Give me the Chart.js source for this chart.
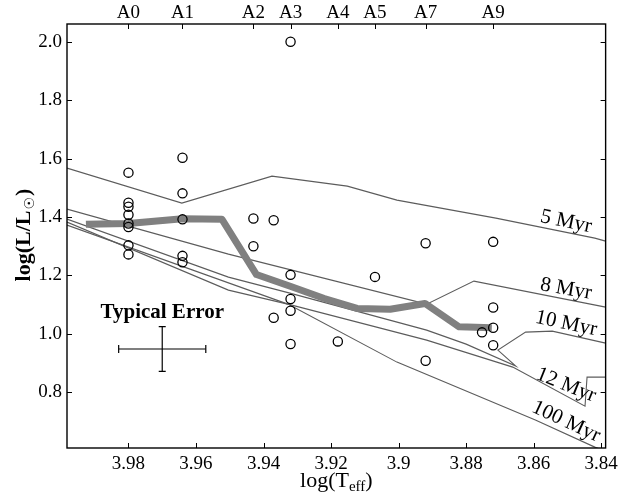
<!DOCTYPE html>
<html>
<head>
<meta charset="utf-8">
<script src="https://cdn.jsdelivr.net/npm/chart.js@4.4.1/dist/chart.umd.min.js"></script>
<style>
  html, body { margin: 0; padding: 0; background: #ffffff; }
  #c { display: block; }
</style>
</head>
<body>
<canvas id="c" width="623" height="495"></canvas>
<script>
// Spectral types along the top axis and their effective temperatures
const spectralTypes = ['A0', 'A1', 'A2', 'A3', 'A4', 'A5', 'A7', 'A9'];
const spectralLogT = [3.98, 3.964, 3.943, 3.932, 3.918, 3.907, 3.892, 3.872];

// Tick values for the bottom and left axes
const tempTicks = [3.98, 3.96, 3.94, 3.92, 3.90, 3.88, 3.86, 3.84];
const lumTicks = [0.8, 1.0, 1.2, 1.4, 1.6, 1.8, 2.0];

// Individual stars
const starLogT = [3.98, 3.98, 3.98, 3.98, 3.98, 3.98, 3.98, 3.98,
                  3.964, 3.964, 3.964, 3.964, 3.964,
                  3.943, 3.943, 3.937, 3.937,
                  3.932, 3.932, 3.932, 3.932, 3.932,
                  3.918, 3.907, 3.892, 3.892, 3.8753,
                  3.872, 3.872, 3.872, 3.872];
const starLogL = [1.552, 1.449, 1.435, 1.408, 1.378, 1.366, 1.303, 1.272,
                  1.603, 1.481, 1.392, 1.267, 1.245,
                  1.395, 1.300, 1.389, 1.055,
                  2.000, 1.202, 1.119, 1.079, 0.965,
                  0.974, 1.195, 1.310, 0.908, 1.005,
                  1.315, 1.090, 1.021, 0.961];

// Mean sequence (thick grey line)
const meanLogT = [3.9926, 3.98, 3.964, 3.9523, 3.9421, 3.9321, 3.9220, 3.9123, 3.9025, 3.8922, 3.8821, 3.8724];
const meanLogL = [1.375, 1.378, 1.394, 1.392, 1.203, 1.163, 1.121, 1.087, 1.084, 1.104, 1.024, 1.021];

// Isochrones
const iso5LogT = [3.9982, 3.9642, 3.9375, 3.9152, 3.9005, 3.8712, 3.8419, 3.8387];
const iso5LogL = [1.5675, 1.4476, 1.5401, 1.5058, 1.4579, 1.3962, 1.3277, 1.3174];
const iso8LogT = [3.9982, 3.9504, 3.8917, 3.8777, 3.8387];
const iso8LogL = [1.4270, 1.2729, 1.1017, 1.1805, 1.0914];
const iso10LogT = [3.9982, 3.9504, 3.9322, 3.8917, 3.8800, 3.8653, 3.8706, 3.8624, 3.8545, 3.8387];
const iso10LogL = [1.3928, 1.1942, 1.1394, 1.0127, 0.9647, 0.8894, 0.9442, 1.0058, 1.0092, 0.9682];
const iso12LogT = [3.9982, 3.9504, 3.9322, 3.8917, 3.8662, 3.8448, 3.8442, 3.8387];
const iso12LogL = [1.3825, 1.1497, 1.1000, 0.9784, 0.8860, 0.7524, 0.8517, 0.8517];
const iso100LogT = [3.9982, 3.9328, 3.9005, 3.8595, 3.8419, 3.8300];
const iso100LogL = [1.3723, 1.1017, 0.9031, 0.7045, 0.6120, 0.5600];

// Isochrone labels
const isoNames = ['5 Myr', '8 Myr', '10 Myr', '12 Myr', '100 Myr'];
const isoLabelLogT = [3.8504, 3.8504, 3.8504, 3.8504, 3.8504];
const isoLabelLogL = [1.3842, 1.1531, 1.0349, 0.8243, 0.6993];
const isoLabelAngle = [12, 10, 12, 22, 25];

// Typical error bar
const errLogT = 3.970, errLogL = 0.948, errDT = 0.0129, errDL = 0.0765;

// Axis ranges
const T_MIN = 3.8387, T_MAX = 3.9982;
const L_MIN = 0.609, L_MAX = 2.061;

const SERIF = '"Liberation Serif", "Times New Roman", serif';

function pts(xs, ys) { return xs.map((x, i) => ({ x: x, y: ys[i] })); }

function isoSet(name, xs, ys) {
  return {
    label: name, data: pts(xs, ys), showLine: true,
    borderColor: '#5c5c5c', borderWidth: 1.1,
    pointRadius: 0, pointHoverRadius: 0, tension: 0, clip: 0
  };
}

const datasets = [
  {
    label: 'Stars', data: pts(starLogT, starLogL), showLine: false,
    pointRadius: 4.6, pointHoverRadius: 4.6, pointBorderWidth: 1.3,
    pointBorderColor: '#000000', pointBackgroundColor: 'rgba(0,0,0,0)'
  },
  {
    label: 'Error T', data: pts([errLogT + errDT, errLogT - errDT], [errLogL, errLogL]),
    showLine: true, borderColor: '#000000', borderWidth: 1.2,
    pointStyle: 'line', pointRotation: 90, pointRadius: 4, pointHoverRadius: 4,
    pointBorderColor: '#000000', pointBorderWidth: 1.2
  },
  {
    label: 'Error L', data: pts([errLogT, errLogT], [errLogL + errDL, errLogL - errDL]),
    showLine: true, borderColor: '#000000', borderWidth: 1.2,
    pointStyle: 'line', pointRotation: 0, pointRadius: 3.5, pointHoverRadius: 3.5,
    pointBorderColor: '#000000', pointBorderWidth: 1.2
  },
  {
    label: 'Mean', data: pts(meanLogT, meanLogL), showLine: true,
    borderColor: '#808080', borderWidth: 7, borderJoinStyle: 'round', borderCapStyle: 'butt',
    pointRadius: 0, pointHoverRadius: 0, tension: 0
  },
  isoSet('5 Myr', iso5LogT, iso5LogL),
  isoSet('8 Myr', iso8LogT, iso8LogL),
  isoSet('10 Myr', iso10LogT, iso10LogL),
  isoSet('12 Myr', iso12LogT, iso12LogL),
  isoSet('100 Myr', iso100LogT, iso100LogL)
];

// Frame, inward ticks, axis titles and annotations
const decorations = {
  id: 'decorations',
  afterDraw(chart) {
    const { ctx, chartArea: a, scales } = chart;
    const sx = scales.x, sy = scales.y, st = scales.xTop;
    ctx.save();
    ctx.strokeStyle = '#000000';
    ctx.lineWidth = 1;
    ctx.beginPath();
    tempTicks.forEach(v => {
      const px = Math.round(sx.getPixelForValue(v)) + 0.5;
      ctx.moveTo(px, a.bottom); ctx.lineTo(px, a.bottom - 5);
    });
    spectralLogT.forEach(v => {
      const px = Math.round(st.getPixelForValue(v)) + 0.5;
      ctx.moveTo(px, a.top); ctx.lineTo(px, a.top + 5);
    });
    lumTicks.forEach(v => {
      const py = Math.round(sy.getPixelForValue(v)) + 0.5;
      ctx.moveTo(a.left, py); ctx.lineTo(a.left + 5, py);
      ctx.moveTo(a.right, py); ctx.lineTo(a.right - 5, py);
    });
    ctx.stroke();

    ctx.lineWidth = 1.4;
    ctx.strokeRect(a.left, a.top, a.right - a.left, a.bottom - a.top);

    ctx.fillStyle = '#000000';
    ctx.textBaseline = 'alphabetic';

    // isochrone ages
    ctx.font = '21px ' + SERIF;
    ctx.textAlign = 'center';
    isoNames.forEach((name, i) => {
      const px = sx.getPixelForValue(isoLabelLogT[i]);
      const py = sy.getPixelForValue(isoLabelLogL[i]);
      ctx.save();
      ctx.translate(px, py);
      ctx.rotate(isoLabelAngle[i] * Math.PI / 180);
      ctx.textBaseline = 'middle';
      ctx.fillText(name, 0, 0);
      ctx.restore();
    });

    // error bar caption
    ctx.font = 'bold 21px ' + SERIF;
    ctx.textAlign = 'center';
    ctx.fillText('Typical Error', sx.getPixelForValue(errLogT), 318);

    // x axis title: log(T_eff)
    const big = '22px ' + SERIF, small = '15px ' + SERIF;
    ctx.textAlign = 'left';
    ctx.font = big; const w1 = ctx.measureText('log(T').width; const w3 = ctx.measureText(')').width;
    ctx.font = small; const w2 = ctx.measureText('eff').width;
    let x0 = (a.left + a.right) / 2 - (w1 + w2 + w3) / 2;
    const by = 487;
    ctx.font = big; ctx.fillText('log(T', x0, by);
    ctx.font = small; ctx.fillText('eff', x0 + w1, by + 4);
    ctx.font = big; ctx.fillText(')', x0 + w1 + w2, by);

    // y axis title: log(L/L_sun)
    ctx.save();
    ctx.translate(30, (a.top + a.bottom) / 2);
    ctx.rotate(-Math.PI / 2);
    const yb = 'bold 22px ' + SERIF, ys = 'bold 14px "DejaVu Sans", sans-serif';
    ctx.font = yb; const v1 = ctx.measureText('log(L/L').width; const v3 = ctx.measureText(')').width;
    ctx.font = ys; const v2 = ctx.measureText('\u2609').width;
    let y0 = -(v1 + v2 + v3) / 2;
    ctx.font = yb; ctx.fillText('log(L/L', y0, 0);
    ctx.font = ys; ctx.fillText('\u2609', y0 + v1 + 1, 4);
    ctx.font = yb; ctx.fillText(')', y0 + v1 + v2 + 2, 0);
    ctx.restore();

    ctx.restore();
  }
};

const tickFont = { family: SERIF, size: 19 };

new Chart(document.getElementById('c'), {
  type: 'scatter',
  data: { datasets: datasets },
  options: {
    responsive: false,
    animation: false,
    events: [],
    layout: { padding: { left: 0, right: 12, top: 0, bottom: 0 } },
    plugins: { legend: { display: false }, tooltip: { enabled: false }, title: { display: false } },
    scales: {
      x: {
        type: 'linear', position: 'bottom', reverse: true, min: T_MIN, max: T_MAX,
        afterBuildTicks: s => { s.ticks = tempTicks.map(v => ({ value: v })); },
        afterFit: s => { s.height = 47; },
        ticks: {
          callback: v => String(+v.toFixed(2)), font: tickFont, color: '#000000',
          padding: 5, maxRotation: 0, autoSkip: false
        },
        grid: { display: false, drawTicks: false }, border: { display: false }
      },
      xTop: {
        type: 'linear', position: 'top', reverse: true, min: T_MIN, max: T_MAX,
        afterBuildTicks: s => { s.ticks = spectralLogT.map(v => ({ value: v })); },
        afterFit: s => { s.height = 24; },
        ticks: {
          callback: (v, i) => spectralTypes[i], font: tickFont, color: '#000000',
          padding: 0, maxRotation: 0, autoSkip: false
        },
        grid: { display: false, drawTicks: false }, border: { display: false }
      },
      y: {
        type: 'linear', position: 'left', min: L_MIN, max: L_MAX,
        afterBuildTicks: s => { s.ticks = lumTicks.map(v => ({ value: v })); },
        afterFit: s => { s.width = 67; },
        ticks: {
          callback: v => v.toFixed(1), font: tickFont, color: '#000000', padding: 5
        },
        grid: { display: false, drawTicks: false }, border: { display: false }
      }
    }
  },
  plugins: [decorations]
});
</script>
</body>
</html>
